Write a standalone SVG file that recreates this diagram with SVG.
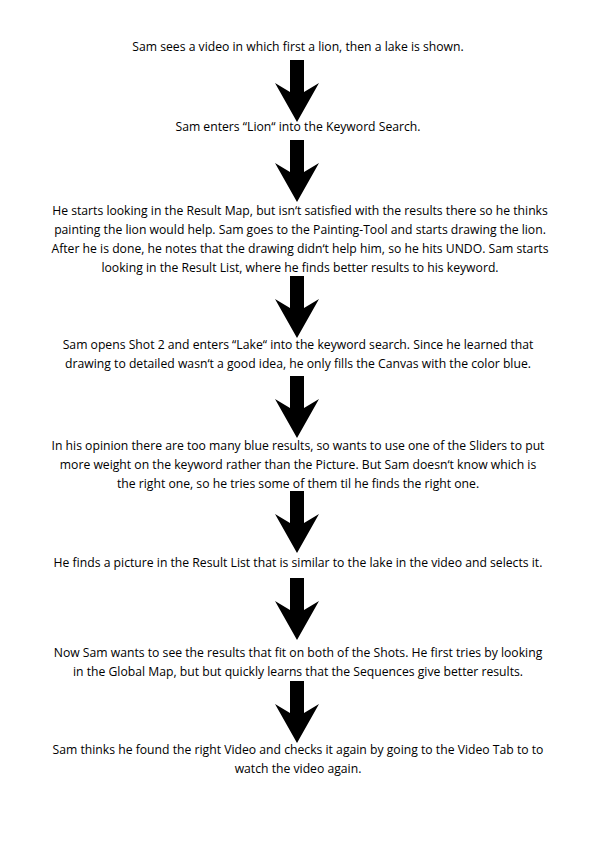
<svg xmlns="http://www.w3.org/2000/svg" xmlns:xlink="http://www.w3.org/1999/xlink" width="596" height="842" viewBox="0 0 596 842">
<defs>
<style>
.t{font-family:"Open Sans","Liberation Sans",sans-serif;font-size:12.2px;font-weight:500;fill:#000;text-anchor:middle}
</style>
<path id="arr" d="M-7,0 L-7,32 L-22,23 L0,62 L22,23 L7,32 L7,0 Z" fill="#000"/>
</defs>
<rect width="596" height="842" fill="#fff"/>
<g id="connectors">
<use xlink:href="#arr" transform="translate(297,60)"/>
<use xlink:href="#arr" transform="translate(297,140)"/>
<use xlink:href="#arr" transform="translate(297,276)"/>
<use xlink:href="#arr" transform="translate(297,376)"/>
<use xlink:href="#arr" transform="translate(297,491)"/>
<use xlink:href="#arr" transform="translate(297,578)"/>
<use xlink:href="#arr" transform="translate(297,681)"/>
</g>
<g id="n1"><text class="t" x="298" y="51">Sam sees a video in which first a lion, then a lake is shown.</text></g>
<g id="n2"><text class="t" x="298" y="131">Sam enters “Lion“ into the Keyword Search.</text></g>
<g id="n3">
<text class="t" x="300" y="215">He starts looking in the Result Map, but isn‘t satisfied with the results there so he thinks</text>
<text class="t" x="300" y="234">painting the lion would help. Sam goes to the Painting-Tool and starts drawing the lion.</text>
<text class="t" x="300" y="253">After he is done, he notes that the drawing didn‘t help him, so he hits UNDO. Sam starts</text>
<text class="t" x="300" y="272">looking in the Result List, where he finds better results to his keyword.</text>
</g>
<g id="n4">
<text class="t" x="298" y="349">Sam opens Shot 2 and enters “Lake“ into the keyword search. Since he learned that</text>
<text class="t" x="298" y="368">drawing to detailed wasn‘t a good idea, he only fills the Canvas with the color blue.</text>
</g>
<g id="n5">
<text class="t" x="298" y="450">In his opinion there are too many blue results, so wants to use one of the Sliders to put</text>
<text class="t" x="298" y="469">more weight on the keyword rather than the Picture. But Sam doesn‘t know which is</text>
<text class="t" x="298" y="488">the right one, so he tries some of them til he finds the right one.</text>
</g>
<g id="n6"><text class="t" x="298" y="567">He finds a picture in the Result List that is similar to the lake in the video and selects it.</text></g>
<g id="n7">
<text class="t" x="298" y="657">Now Sam wants to see the results that fit on both of the Shots. He first tries by looking</text>
<text class="t" x="298" y="676">in the Global Map, but but quickly learns that the Sequences give better results.</text>
</g>
<g id="n8">
<text class="t" x="298" y="754">Sam thinks he found the right Video and checks it again by going to the Video Tab to to</text>
<text class="t" x="298" y="773">watch the video again.</text>
</g>
</svg>
